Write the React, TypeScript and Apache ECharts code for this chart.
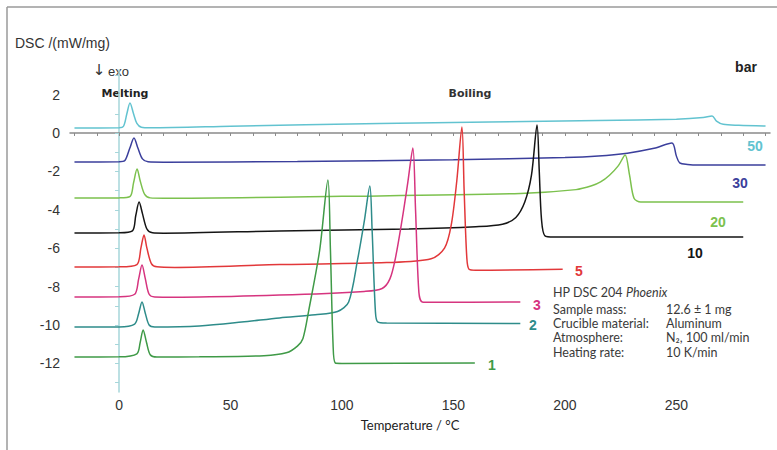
import React, { useEffect, useRef } from "react";
import * as echarts from "echarts";

// Axis ticks / labels
const xLabelValues = [0, 50, 100, 150, 200, 250];
const xTickValues = [-20, -10, 0, 10, 20, 30, 40, 50, 60, 70, 80, 90, 100, 110, 120, 130, 140, 150, 160, 170, 180, 190, 200, 210, 220, 230, 240, 250, 260, 270, 280, 290];
const yLabelValues = [-12, -10, -8, -6, -4, -2, 0, 2];
const yTickValues = [-13, -12, -11, -10, -9, -8, -7, -6, -5, -4, -3, -2, -1, 0, 1, 2, 3];

// Pressure (bar) of each curve
const pressures = ["50", "30", "20", "10", "5", "3", "2", "1"];

// DSC curves [temperature °C, DSC mW/mg]
const curve50 = [[-20, 0.26], [0, 0.27], [2, 0.35], [3.5, 1.0], [4.9, 1.56], [6.5, 1.0], [8, 0.5], [10, 0.3], [14, 0.27], [50, 0.35], [117, 0.5], [215, 0.65], [250, 0.72], [262, 0.8], [266, 0.88], [268, 0.62], [271, 0.45], [278, 0.4], [290, 0.36]];
const curve30 = [[-20, -1.51], [0, -1.5], [2.5, -1.45], [4.8, -0.8], [6.7, -0.26], [8.5, -0.8], [10.5, -1.35], [13, -1.5], [20, -1.52], [80, -1.48], [150, -1.4], [200, -1.28], [215, -1.2], [228, -1.05], [240, -0.8], [248, -0.52], [250, -1.2], [251.5, -1.56], [255, -1.64], [260, -1.67], [290, -1.67]];
const curve20 = [[-20, -3.39], [0, -3.38], [5, -3.3], [6.5, -2.6], [8.1, -1.88], [9.5, -2.5], [11.5, -3.2], [14, -3.38], [20, -3.4], [100, -3.3], [180, -3.15], [205, -2.95], [212, -2.75], [216, -2.55], [220, -2.2], [224, -1.7], [227, -1.15], [229, -2.2], [231, -3.4], [234, -3.6], [280, -3.6]];
const curve10 = [[-20, -5.21], [0, -5.2], [6, -5.1], [7.5, -4.3], [9, -3.6], [10.5, -4.2], [12.5, -5.0], [15, -5.2], [20, -5.22], [72, -5.1], [130, -5.0], [160, -4.88], [172, -4.75], [178, -4.4], [182, -3.6], [185, -2.2], [187.5, 0.42], [188.5, -2], [189.5, -4.5], [191, -5.35], [195, -5.42], [280, -5.42]];
const curve5 = [[-20, -6.98], [0, -6.97], [8, -6.85], [9.8, -6.0], [11.2, -5.31], [12.5, -6.0], [14.5, -6.8], [17, -6.97], [25, -7.0], [72, -6.85], [120, -6.75], [140, -6.55], [146, -6.0], [149, -4.8], [151.5, -2.5], [153.8, 0.31], [154.8, -3], [156, -6.5], [157, -7.1], [160, -7.15], [199, -7.1]];
const curve3 = [[-20, -8.54], [0, -8.53], [7, -8.4], [8.8, -7.6], [10.3, -6.88], [11.8, -7.6], [13.5, -8.4], [16, -8.54], [25, -8.55], [72, -8.44], [110, -8.25], [118, -8.1], [121.5, -7.6], [124, -6.5], [127, -4.5], [129.5, -2.6], [131.8, -0.78], [133, -4], [134.5, -8.3], [136, -8.8], [140, -8.82], [180, -8.8]];
const curve2 = [[-20, -10.1], [0, -10.1], [7, -9.95], [8.8, -9.4], [10.3, -8.8], [11.8, -9.4], [13.5, -10.0], [16, -10.1], [36, -10.05], [55, -9.85], [72, -9.63], [88, -9.47], [98, -9.3], [103, -8.8], [107, -6.6], [110, -4.6], [112.5, -2.76], [113.5, -5], [115, -9.3], [116, -9.84], [120, -9.9], [180, -9.92]];
const curve1 = [[-20, -11.67], [0, -11.66], [8, -11.5], [9.5, -10.9], [10.8, -10.26], [12.3, -10.9], [14, -11.55], [17, -11.67], [36, -11.66], [65, -11.6], [75, -11.45], [80, -11.1], [82.5, -10.7], [85, -9.3], [90, -6.1], [93.7, -2.45], [94.8, -6], [96, -11], [97, -11.98], [100, -12], [159.6, -11.98]];

const curves = [curve50, curve30, curve20, curve10, curve5, curve3, curve2, curve1];
const colors = ["#62c3d0", "#3b3f9c", "#7cc14e", "#151515", "#e2383a", "#d6347f", "#2e8c8a", "#3f9a47"];

// Label positions for the pressure tags (pixel annotations)
const tagPos = [[755, 146], [740, 183], [718, 222], [695, 253], [579, 271], [537, 305], [533, 325], [492, 365]];

const infoKeys = ["Sample mass:", "Crucible material:", "Atmosphere:", "Heating rate:"];
const infoVals = ["12.6 ± 1 mg", "Aluminum", "N₂, 100 ml/min", "10 K/min"];

export default function App() {
  const ref = useRef<HTMLDivElement>(null);
  useEffect(() => {
    if (!ref.current) return;
    const chart = echarts.init(ref.current, undefined, { renderer: "svg" });
    const sans = "'Liberation Sans', Arial, sans-serif";
    const box = "Lato, 'Noto Sans', sans-serif";
    const graphics: any[] = [
      { type: "line", shape: { x1: 7, y1: 7, x2: 777, y2: 7 }, style: { stroke: "#9a9a9a", lineWidth: 1.5 } },
      { type: "line", shape: { x1: 7, y1: 7, x2: 7, y2: 450 }, style: { stroke: "#9a9a9a", lineWidth: 1.5 } },
      { type: "text", style: { text: "DSC /(mW/mg)", x: 15, y: 43, font: `14px ${sans}`, fill: "#333", verticalAlign: "middle" } },
      { type: "text", style: { text: "↓", x: 99, y: 70, font: `15px 'DejaVu Sans', sans-serif`, fill: "#333", align: "center", verticalAlign: "middle" } },
      { type: "text", style: { text: "exo", x: 108, y: 71, font: `13px ${sans}`, fill: "#333", verticalAlign: "middle" } },
      { type: "text", style: { text: "Melting", x: 125, y: 93, font: `bold 11px 'DejaVu Sans', sans-serif`, fill: "#222", align: "center", verticalAlign: "middle" } },
      { type: "text", style: { text: "Boiling", x: 470, y: 93, font: `bold 11px 'DejaVu Sans', sans-serif`, fill: "#333", align: "center", verticalAlign: "middle" } },
      { type: "text", style: { text: "bar", x: 746, y: 67, font: `bold 14px ${sans}`, fill: "#222", align: "center", verticalAlign: "middle" } },
      {
        type: "text",
        style: {
          text: "HP DSC 204 {i|Phoenix}", x: 553, y: 292, font: `12.5px ${box}`, fill: "#3a3a3a", verticalAlign: "middle",
          rich: { i: { fontStyle: "italic", fontSize: 12.5, fontFamily: "Lato, 'Noto Sans', sans-serif", fill: "#3a3a3a" } },
        },
      },
    ];
    pressures.forEach((p, i) => {
      graphics.push({
        type: "text",
        style: { text: p, x: tagPos[i][0], y: tagPos[i][1], font: `bold 14px ${sans}`, fill: colors[i], align: "center", verticalAlign: "middle" },
      });
    });
    const rowY = [309, 323, 337, 352];
    infoKeys.forEach((k, i) => {
      graphics.push({ type: "text", style: { text: k, x: 553, y: rowY[i], font: `12.5px ${box}`, fill: "#3a3a3a", verticalAlign: "middle" } });
      graphics.push({ type: "text", style: { text: infoVals[i], x: 666, y: rowY[i], font: `12.5px ${box}`, fill: "#3a3a3a", verticalAlign: "middle" } });
    });

    chart.setOption({
      animation: false,
      grid: { left: 70, right: 7, top: 70, bottom: 58 },
      xAxis: {
        type: "value",
        min: -22,
        max: 292,
        name: "Temperature / °C",
        nameLocation: "middle",
        nameGap: 26,
        nameTextStyle: { fontSize: 13, color: "#222", fontFamily: box, padding: [0, 20, 0, 0] },
        axisLine: { lineStyle: { color: "#8a8a8a", width: 1.5 } },
        axisTick: { show: true, length: 3, customValues: xTickValues, lineStyle: { color: "#8a8a8a" } },
        axisLabel: { customValues: xLabelValues, fontSize: 14, color: "#333", fontFamily: sans, margin: 6 },
        splitLine: { show: false },
      },
      yAxis: {
        type: "value",
        min: -13.49,
        max: 3.28,
        axisLine: { show: true, lineStyle: { color: "#a6d6da", width: 1.5 } },
        axisTick: { show: true, length: 4, customValues: yTickValues, lineStyle: { color: "#a6d6da" } },
        axisLabel: { customValues: yLabelValues, fontSize: 14, color: "#333", fontFamily: sans, margin: 10 },
        splitLine: { show: false },
      },
      series: curves.map((c, i) => ({
        type: "line",
        name: pressures[i] + " bar",
        data: c,
        showSymbol: false,
        smooth: 0.3,
        lineStyle: { color: colors[i], width: 1.5 },
        itemStyle: { color: colors[i] },
      })),
      graphic: graphics,
    });
    return () => chart.dispose();
  }, []);
  return <div ref={ref} style={{ position: "absolute", left: 0, top: 0, width: 777, height: 450, background: "#fff" }} />;
}
